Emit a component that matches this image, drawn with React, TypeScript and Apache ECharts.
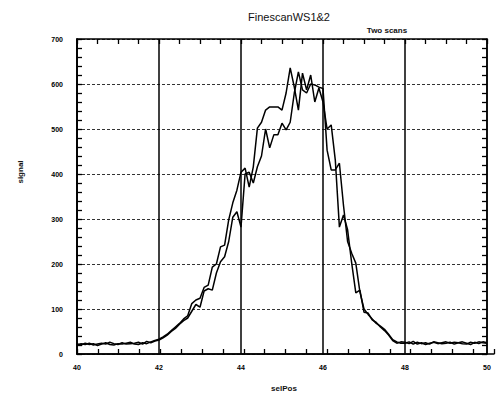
import React, { useEffect, useRef } from "react";
import * as echarts from "echarts";

const titleText = "FinescanWS1&2";
const subText = "Two scans";
const xName = "selPos";
const yName = "signal";

// x positions: 40.0 .. 50.0 step 0.1
const xStart = 40;
const xStep = 0.1;

const scanA: number[] = [
  // 40.0 - 41.9
  22, 20, 24, 21, 23, 19, 22, 25, 21, 20, 23, 22, 24, 26, 22, 21, 25, 23, 27, 30,
  // 42.0 - 42.9
  33, 38, 44, 52, 60, 68, 78, 85, 112, 120,
  // 43.0 - 43.9
  124, 148, 153, 193, 200, 238, 242, 298, 336, 364,
  // 44.0 - 44.9
  404, 413, 371, 416, 502, 515, 542, 549, 549, 549,
  // 45.0 - 45.9
  542, 580, 636, 593, 542, 624, 587, 620, 560, 591,
  // 46.0 - 46.9
  560, 500, 509, 431, 282, 309, 276, 202, 136, 142,
  // 47.0 - 47.9
  93, 91, 76, 70, 60, 52, 42, 30, 24, 27,
  // 48.0 - 50.0
  26, 23, 28, 22, 25, 21, 24, 26, 23, 25, 27, 24, 26, 25, 23, 22, 26, 24, 27, 25, 24,
];

const scanB: number[] = [
  // 40.0 - 41.9
  20, 23, 21, 24, 20, 22, 24, 22, 26, 23, 21, 25, 22, 23, 24, 26, 22, 28, 25, 29,
  // 42.0 - 42.9
  31, 36, 42, 50, 57, 66, 74, 80, 95, 110,
  // 43.0 - 43.9
  104, 140, 145, 142, 180, 205, 216, 250, 304, 316,
  // 44.0 - 44.9
  282, 400, 404, 380, 416, 440, 500, 458, 487, 487,
  // 45.0 - 45.9
  513, 498, 515, 580, 627, 587, 580, 600, 598, 593,
  // 46.0 - 46.9
  590, 453, 409, 409, 424, 330, 250, 224, 202, 138,
  // 47.0 - 47.9
  100, 88, 78, 68, 62, 55, 44, 32, 27, 24,
  // 48.0 - 50.0
  24, 27, 22, 26, 23, 25, 22, 27, 25, 23, 24, 26, 22, 25, 27, 24, 21, 26, 23, 27, 25,
];

const toPairs = (vals: number[]) =>
  vals.map((v, i) => [Math.round((xStart + i * xStep) * 10) / 10, v]);

export default function App() {
  const ref = useRef<HTMLDivElement>(null);
  useEffect(() => {
    if (!ref.current) return;
    const chart = echarts.init(ref.current, null, { renderer: "svg" });
    const font = "Liberation Sans, Arial, sans-serif";
    const labelStyle = {
      color: "#000",
      fontSize: 7,
      fontWeight: "bold" as const,
      fontFamily: font,
    };
    const mkLine = () => ({ show: true, onZero: false, lineStyle: { color: "#000", width: 1.5 } });
    const mkTick = () => ({ show: true, inside: true, length: 5, lineStyle: { color: "#000", width: 1.3 } });
    const blankLabel = () => ({ show: true, formatter: () => "", fontSize: 1 });
    chart.setOption({
      animation: false,
      backgroundColor: "#fff",
      grid: [
        { left: 77, right: 4, top: 39, bottom: 41 },
        { left: 77, right: 4, top: 39, bottom: 41 },
      ],
      graphic: [
        {
          type: "text",
          x: 289,
          y: 17,
          style: {
            text: titleText,
            fill: "#111",
            fontSize: 11,
            fontFamily: font,
            align: "center",
            verticalAlign: "middle",
          },
        },
        {
          type: "text",
          x: 387,
          y: 30,
          style: {
            text: subText,
            fill: "#111",
            fontSize: 8,
            fontWeight: "bold",
            fontFamily: font,
            align: "center",
            verticalAlign: "middle",
          },
        },
        {
          type: "text",
          x: 284,
          y: 388,
          style: {
            text: xName,
            fill: "#111",
            fontSize: 8,
            fontWeight: "bold",
            fontFamily: font,
            align: "center",
            verticalAlign: "middle",
          },
        },
        {
          type: "text",
          x: 20,
          y: 172,
          rotation: Math.PI / 2,
          style: {
            text: yName,
            fill: "#111",
            fontSize: 8,
            fontWeight: "bold",
            fontFamily: font,
            align: "center",
            verticalAlign: "middle",
          },
        },
      ],
      xAxis: [
        {
          type: "value",
          gridIndex: 0,
          position: "bottom",
          min: 40,
          max: 50,
          interval: 2,
          axisLine: mkLine(),
          axisTick: { show: false },
          axisLabel: { ...labelStyle, margin: 10 },
          splitLine: { show: true, lineStyle: { color: "#000", width: 1.5 } },
        },
        {
          type: "value",
          gridIndex: 0,
          position: "top",
          min: 40,
          max: 50,
          interval: 0.5,
          axisLine: mkLine(),
          axisTick: mkTick(),
          axisLabel: blankLabel(),
          splitLine: { show: false },
        },
        {
          type: "value",
          gridIndex: 1,
          position: "bottom",
          min: 40,
          max: 50,
          interval: 0.5,
          axisLine: mkLine(),
          axisTick: mkTick(),
          axisLabel: blankLabel(),
          splitLine: { show: false },
        },
      ],
      yAxis: [
        {
          type: "value",
          gridIndex: 0,
          position: "left",
          min: 0,
          max: 700,
          interval: 100,
          axisLine: mkLine(),
          axisTick: { show: false },
          axisLabel: { ...labelStyle, margin: 14 },
          splitLine: { show: true, lineStyle: { color: "#333", width: 1, type: [3, 2] } },
        },
        {
          type: "value",
          gridIndex: 0,
          position: "right",
          min: 0,
          max: 700,
          interval: 20,
          axisLine: mkLine(),
          axisTick: mkTick(),
          axisLabel: blankLabel(),
          splitLine: { show: false },
        },
        {
          type: "value",
          gridIndex: 1,
          position: "left",
          min: 0,
          max: 700,
          interval: 20,
          axisLine: mkLine(),
          axisTick: mkTick(),
          axisLabel: blankLabel(),
          splitLine: { show: false },
        },
      ],
      series: [
        {
          type: "line",
          xAxisIndex: 0,
          yAxisIndex: 0,
          data: toPairs(scanA),
          showSymbol: false,
          lineStyle: { color: "#000", width: 1.5 },
        },
        {
          type: "line",
          xAxisIndex: 0,
          yAxisIndex: 0,
          data: toPairs(scanB),
          showSymbol: false,
          lineStyle: { color: "#000", width: 1.5 },
        },
        { type: "line", xAxisIndex: 1, yAxisIndex: 1, data: [] },
        { type: "line", xAxisIndex: 2, yAxisIndex: 2, data: [] },
      ],
    });
    return () => chart.dispose();
  }, []);
  return (
    <div
      ref={ref}
      style={{ position: "absolute", left: 0, top: 0, width: 498, height: 395 }}
    />
  );
}
